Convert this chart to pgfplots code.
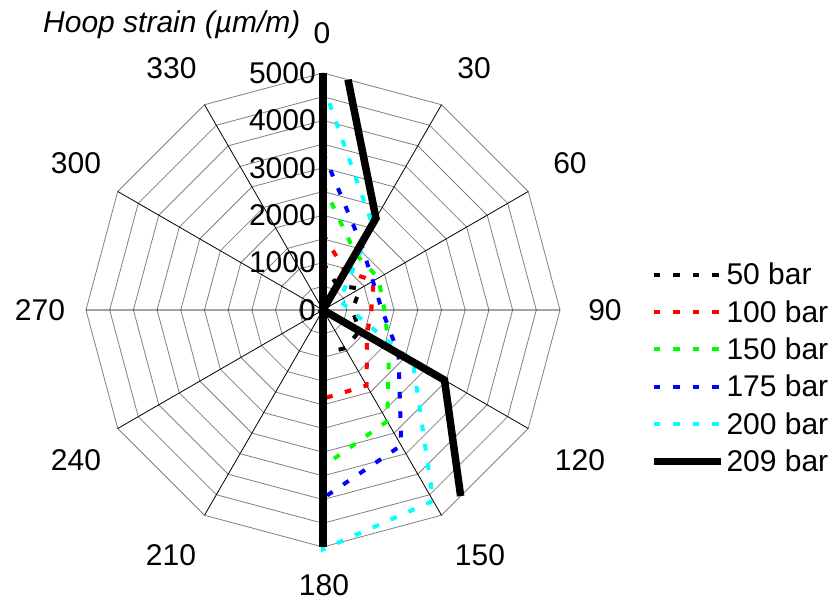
\documentclass[border=0pt]{standalone}
\usepackage{fontspec}
\setmainfont{Liberation Sans}
\usepackage{pgfplots}
\pgfplotsset{compat=1.18}
\definecolor{ringgray}{RGB}{128,128,128}
\definecolor{xred}{RGB}{255,0,0}
\definecolor{xgreen}{RGB}{0,255,0}
\definecolor{xblue}{RGB}{0,0,255}
\definecolor{xcyan}{RGB}{0,255,255}
\newcommand{\bigfont}{\fontsize{30}{36}\selectfont}
\tikzset{dotser/.style={line width=4pt, dash pattern=on 6.7pt off 12.8pt, line cap=butt, line join=miter}}

\begin{document}
\begin{tikzpicture}
\begin{axis}[
  x=0.0474pt, y=0.0474pt,
  xmin=-6814, xmax=10886, ymin=-6181, ymax=6540,
  hide axis, clip=false,
  legend style={at={(axis cs:6899,992)}, anchor=north west, draw=none, fill=none,
    inner sep=0pt, outer sep=0pt, row sep=14.1pt, column sep=2pt,
    font=\bigfont, nodes={inner sep=0pt}},
  legend cell align=left,
  legend image code/.code={\draw[#1] (0pt,0pt) -- (67pt,0pt);},
]
% polygonal grid rings (every 500) -- angles are 90 - compass angle
\pgfplotsinvokeforeach{500,1000,1500,2000,2500,3000,3500,4000,4500,5000}{
\addplot[ringgray, line width=0.8pt, data cs=polar, forget plot] coordinates {(90,#1) (60,#1) (30,#1) (0,#1) (-30,#1) (-60,#1) (-90,#1) (-120,#1) (-150,#1) (-180,#1) (-210,#1) (-240,#1) (-270,#1)};
}
% spokes
\addplot[black, line width=0.8pt, data cs=polar, forget plot] coordinates {(90,5000) (0,0) (60,5000) (0,0) (30,5000) (0,0) (0,5000) (0,0) (-30,5000) (0,0) (-60,5000) (0,0) (-90,5000) (0,0) (-120,5000) (0,0) (-150,5000) (0,0) (-180,5000) (0,0) (-210,5000) (0,0) (-240,5000)};

% series: compass angles 0,30,...,330 -> pgf angle 90,60,...,-240
\addplot[dotser, black, data cs=polar] coordinates {(90,1000) (60,600) (30,900) (0,620) (-30,890) (-60,930) (-90,920) (-120,0) (-150,0) (-180,0) (-210,0) (-240,0) (-270,1000)};
\addlegendentry{50 bar}
\addplot[dotser, xred, data cs=polar] coordinates {(90,1610) (60,940) (30,1235) (0,1020) (-30,1072) (-60,1840) (-90,1870) (-120,0) (-150,0) (-180,0) (-210,0) (-240,0) (-270,1610)};
\addlegendentry{100 bar}
\addplot[dotser, xgreen, data cs=polar] coordinates {(90,2640) (60,1370) (30,1350) (0,1295) (-30,1610) (-60,2710) (-90,3300) (-120,0) (-150,0) (-180,0) (-210,0) (-240,0) (-270,2640)};
\addlegendentry{150 bar}
\addplot[dotser, xblue, data cs=polar] coordinates {(90,3330) (60,1610) (30,1215) (0,1245) (-30,1840) (-60,3300) (-90,3970) (-120,0) (-150,0) (-180,0) (-210,0) (-240,0) (-270,3330)};
\addlegendentry{175 bar}
\addplot[dotser, xcyan, data cs=polar] coordinates {(90,4750) (60,2080) (30,400) (0,580) (-30,2190) (-60,4650) (-90,5050) (-120,0) (-150,0) (-180,0) (-210,0) (-240,0) (-270,4750)};
\addlegendentry{200 bar}
% 209 bar: values beyond 5000 are cut at the outer ring
\addplot[black, line width=7.5pt, line join=miter, data cs=polar] coordinates {(-90,5000) (-120,0) (-150,0) (-180,0) (-210,0) (-240,0) (-270,5000)};
\addlegendentry{209 bar}
\addplot[black, line width=7.5pt, line join=miter, data cs=polar, forget plot] coordinates {(83.8,4887) (60,2235) (30,0) (0,0) (-30,2960) (-53.5,4883)};

% value labels
\pgfplotsinvokeforeach{0,1000,2000,3000,4000,5000}{
  \node[anchor=east, inner sep=0pt, font=\bigfont] at (axis cs:-148,#1) {#1};
}
% angle labels
\node[inner sep=0pt, font=\bigfont] at (axis cs:-21,5844) {0};
\node[inner sep=0pt, font=\bigfont] at (axis cs:3186,5105) {30};
\node[inner sep=0pt, font=\bigfont] at (axis cs:5211,3101) {60};
\node[inner sep=0pt, font=\bigfont] at (axis cs:5949,0) {90};
\node[inner sep=0pt, font=\bigfont] at (axis cs:5422,-3165) {120};
\node[inner sep=0pt, font=\bigfont] at (axis cs:3312,-5169) {150};
\node[inner sep=0pt, font=\bigfont] at (axis cs:21,-5800) {180};
\node[inner sep=0pt, font=\bigfont] at (axis cs:-3207,-5169) {210};
\node[inner sep=0pt, font=\bigfont] at (axis cs:-5211,-3165) {240};
\node[inner sep=0pt, font=\bigfont] at (axis cs:-5970,0) {270};
\node[inner sep=0pt, font=\bigfont] at (axis cs:-5211,3101) {300};
\node[inner sep=0pt, font=\bigfont] at (axis cs:-3196,5095) {330};
% title
\node[anchor=base west, inner sep=0pt, font=\bigfont\itshape] at (axis cs:-5907,5844) {Hoop strain (µm/m)};
\end{axis}
\pgfresetboundingbox
\path (current axis.south west) rectangle (current axis.north east);
\end{tikzpicture}
\end{document}
